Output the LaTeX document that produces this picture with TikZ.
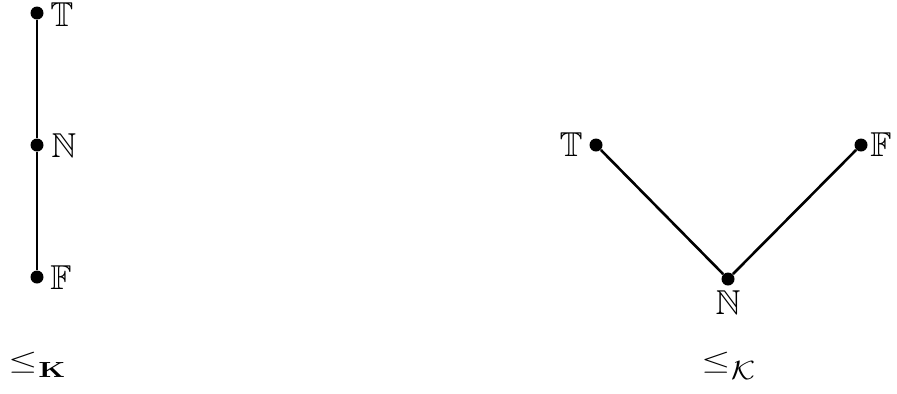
\documentclass[tikz,border=0pt]{standalone}
\usepackage{amsmath,amssymb,graphicx}
\begin{document}
\begin{tikzpicture}[x=0.5pt,y=-0.5pt,
  dot/.style={circle,fill=black,inner sep=0pt,minimum size=6.5pt},
  edge/.style={line width=1.3pt},
  lbl/.style={inner sep=0pt,font=\LARGE},
  ord/.style={inner sep=0pt}]
\useasboundingbox (0,0) rectangle (897,393);
% left chain
\node[dot] (lT) at (37,13) {};
\node[dot] (lN) at (37,145) {};
\node[dot] (lF) at (37,277) {};
\draw[edge] (lT) -- (lN) -- (lF);
\node[lbl,anchor=west] (lTl) at (50,14.5) {$\mathbb{T}$};
\node[lbl,anchor=west] (lNl) at (51,146) {$\mathbb{N}$};
\node[lbl,anchor=west] (lFl) at (50,278) {$\mathbb{F}$};
% right V
\node[dot] (rT) at (596,145) {};
\node[dot] (rF) at (861,145) {};
\node[dot] (rN) at (728,279) {};
\draw[edge] (rT) -- (rN) -- (rF);
\node[lbl,anchor=east] (rTl) at (583,145) {$\mathbb{T}$};
\node[lbl,anchor=west] (rFl) at (870,145) {$\mathbb{F}$};
\node[lbl] (rNl) at (728,302.5) {$\mathbb{N}$};
% orders
\node[ord,anchor=base west] (ordK) at (8,369)
  {\resizebox*{14.5pt}{10.5pt}{$\leq$}\kern0.5pt\raisebox{-4.25pt}{\resizebox*{13.5pt}{7.5pt}{$\mathbf{K}$}}};
\node[ord,anchor=base west] (ordC) at (701,369)
  {\resizebox*{14.5pt}{10.5pt}{$\leq$}\kern0.3pt\raisebox{-5.2pt}{\resizebox*{12pt}{9pt}{$\mathcal{K}$}}};
\end{tikzpicture}
\end{document}
